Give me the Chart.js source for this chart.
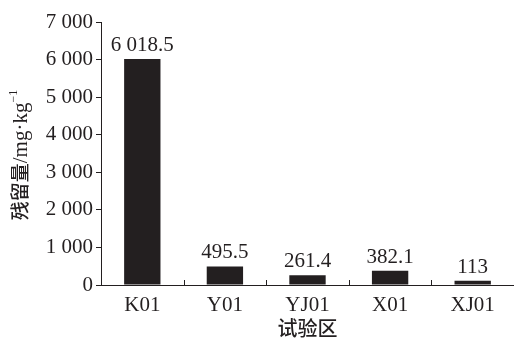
<!DOCTYPE html>
<html>
<head>
<meta charset="utf-8">
<script src="https://cdn.jsdelivr.net/npm/chart.js@4"></script>
<style>
  body { margin: 0; background: #fff; }
  #wrap { width: 514px; height: 340px; }
</style>
</head>
<body>
<div id="wrap"><canvas id="myChart"></canvas></div>
<script>
// chart data
var zones = ["K01", "Y01", "YJ01", "X01", "XJ01"];
var residue = [6018.5, 495.5, 261.4, 382.1, 113];
var residueLabels = ["6 018.5", "495.5", "261.4", "382.1", "113"];
var yTicks = [0, 1000, 2000, 3000, 4000, 5000, 6000, 7000];

var serif = "'Liberation Serif', 'Times New Roman', serif";
var hei = "'Noto Sans CJK SC', sans-serif";
var ink = "#231f20";

// format 6000 -> "6 000"
function spaced(v) {
    var s = String(v);
    if (s.length > 3) {
        s = s.slice(0, s.length - 3) + " " + s.slice(s.length - 3);
    }
    return s;
}

// value labels above the bars
var barLabels = {
    id: "barLabels",
    afterDatasetsDraw: function (chart) {
        var ctx = chart.ctx;
        var meta = chart.getDatasetMeta(0);
        ctx.save();
        ctx.fillStyle = ink;
        ctx.font = "21px " + serif;
        ctx.textAlign = "center";
        ctx.textBaseline = "alphabetic";
        meta.data.forEach(function (bar, i) {
            ctx.fillText(residueLabels[i], bar.x, bar.y - 8);
        });
        ctx.restore();
    }
};

// small inward tick marks between categories + the rotated y title
var extras = {
    id: "extras",
    afterDraw: function (chart) {
        var ctx = chart.ctx;
        var x = chart.scales.x;
        var area = chart.chartArea;
        ctx.save();
        ctx.strokeStyle = ink;
        ctx.lineWidth = 1;
        for (var i = 0; i < zones.length - 1; i++) {
            var px = Math.round((x.getPixelForValue(i) + x.getPixelForValue(i + 1)) / 2) + 0.5;
            ctx.beginPath();
            ctx.moveTo(px, area.bottom);
            ctx.lineTo(px, area.bottom - 5);
            ctx.stroke();
        }

        // y title: chinese part in hei, unit in serif with superscript
        var parts = [
            { t: "残留量", f: "500 19px " + hei, dy: 0 },
            { t: "/mg·kg", f: "21px " + serif, dy: 0 },
            { t: "−1", f: "12px " + serif, dy: -10 }
        ];
        var total = 0;
        parts.forEach(function (p) { ctx.font = p.f; p.w = ctx.measureText(p.t).width; total += p.w; });
        ctx.translate(27, 155);
        ctx.rotate(-Math.PI / 2);
        ctx.fillStyle = ink;
        ctx.textBaseline = "alphabetic";
        ctx.textAlign = "left";
        var cx = -total / 2;
        parts.forEach(function (p) {
            ctx.font = p.f;
            ctx.fillText(p.t, cx, p.dy);
            cx += p.w;
        });
        ctx.restore();
    }
};

new Chart(document.getElementById("myChart"), {
    type: "bar",
    data: {
        labels: zones,
        datasets: [{
            data: residue,
            backgroundColor: ink,
            borderWidth: 0,
            barPercentage: 0.44,
            categoryPercentage: 1
        }]
    },
    options: {
        responsive: true,
        maintainAspectRatio: false,
        animation: false,
        layout: { padding: { top: 22, right: 0, left: 0, bottom: 0 } },
        plugins: {
            legend: { display: false },
            tooltip: { enabled: false }
        },
        scales: {
            x: {
                grid: { display: false },
                border: { display: true, color: ink, width: 1 },
                ticks: {
                    color: ink,
                    font: { family: serif, size: 21 },
                    padding: 0
                },
                title: {
                    display: true,
                    text: "试验区",
                    color: ink,
                    font: { family: hei, size: 20, weight: "500" },
                    padding: { top: 0, bottom: 0 }
                },
                afterFit: function (scale) { scale.height = 55; }
            },
            y: {
                min: 0,
                max: 7000,
                afterBuildTicks: function (scale) {
                    scale.ticks = yTicks.map(function (v) { return { value: v }; });
                },
                grid: {
                    drawOnChartArea: false,
                    drawTicks: true,
                    tickLength: 5,
                    color: ink
                },
                border: { display: true, color: ink, width: 1 },
                ticks: {
                    color: ink,
                    font: { family: serif, size: 21 },
                    padding: 3,
                    callback: function (v) { return spaced(v); }
                },
                title: { display: false },
                afterFit: function (scale) { scale.width = 101; }
            }
        }
    },
    plugins: [barLabels, extras]
});
</script>
</body>
</html>
